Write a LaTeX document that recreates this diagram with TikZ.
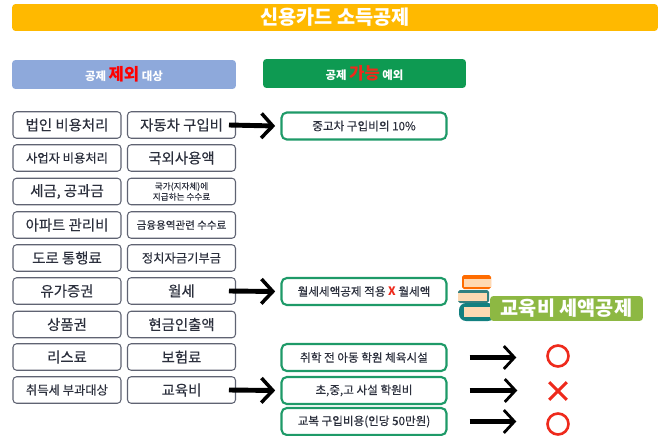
\documentclass[tikz,border=0pt]{standalone}
\usepackage{fontspec}
\setmainfont{Noto Sans CJK KR}[UprightFeatures={FakeBold=0.25}]
\usetikzlibrary{arrows.meta}
\definecolor{barorange}{HTML}{FFB900}
\definecolor{headblue}{HTML}{8EA9DB}
\definecolor{headgreen}{HTML}{0E9A52}
\definecolor{boxgray}{HTML}{5F6372}
\definecolor{boxgreen}{HTML}{1E9A68}
\definecolor{bannergreen}{HTML}{8DB843}
\definecolor{textdark}{HTML}{2B2F3C}
\definecolor{markred}{HTML}{EE2A1C}
\newcommand{\fs}[1]{\fontsize{#1}{#1}\selectfont}
\tikzset{
  itembox/.style={draw=boxgray, line width=0.6pt, rounded corners=2pt, fill=white, text=textdark,
    minimum width=2.16cm, minimum height=0.53cm, inner sep=0pt, align=center, font=\fs{8.2}},
  smallitem/.style={itembox, font=\fs{7}},
  okbox/.style={draw=boxgreen, line width=1.2pt, rounded corners=3pt, fill=white, text=textdark,
    minimum width=3.3cm, minimum height=0.54cm, inner sep=0pt, font=\fs{6.6}},
  headbox/.style={rounded corners=2pt, minimum height=0.58cm, inner sep=0pt, text=white, font=\bfseries\fs{6.5}},
  bigarrow/.style={line width=2.8pt, -{Straight Barb[length=6.5pt,width=14pt,line width=2pt]}},
  sidearrow/.style={line width=2.3pt, -{Straight Barb[length=6pt,width=13pt,line width=1.6pt]}},
  circlemark/.style={circle, draw=markred, line width=1.5pt, minimum size=0.42cm, inner sep=0pt},
}
\begin{document}
\begin{tikzpicture}[x=0.02cm, y=-0.02cm]
\useasboundingbox (0,0) rectangle (660,436);

% title and headers
\node[rounded corners=2pt, fill=barorange, minimum width=12.92cm, minimum height=0.54cm, inner sep=0pt, text=white, font=\bfseries\fs{11.2}] (title) at (335,17.5) {신용카드 소득공제};
\node[headbox, fill=headblue, minimum width=4.48cm] (except) at (124,74.5) {공제 \textcolor{red}{\fs{9.5}제외} 대상};
\node[headbox, fill=headgreen, minimum width=4.06cm] (allowed) at (364.5,73.5) {공제 \textcolor{markred}{\fs{9.5}가능} 예외};

% left column
\node[itembox] (corp) at (67,125) {법인 비용처리};
\node[smallitem] (biz) at (67,158) {사업자 비용처리};
\node[itembox] (tax) at (67,191.5) {세금, 공과금};
\node[itembox] (apt) at (67,225) {아파트 관리비};
\node[itembox] (toll) at (67,258) {도로 통행료};
\node[itembox] (stock) at (67,291) {유가증권};
\node[itembox] (gift) at (67,324.5) {상품권};
\node[itembox] (lease) at (67,357) {리스료};
\node[smallitem] (acq) at (67,390) {취득세 부과대상};

% right column
\node[itembox] (car) at (181.5,125) {자동차 구입비};
\node[itembox] (abroad) at (181.5,158) {국외사용액};
\node[itembox, font=\fs{4.9}] (gov) at (181.5,191.5) {국가(지자체)에\\지급하는 수수료};
\node[itembox, font=\fs{6}] (fin) at (181.5,225) {금융용역관련 수수료};
\node[smallitem] (donate) at (181.5,258) {정치자금기부금};
\node[itembox] (rent) at (181.5,291) {월세};
\node[itembox] (cash) at (181.5,324.5) {현금인출액};
\node[itembox] (insur) at (181.5,357) {보험료};
\node[itembox] (edu) at (181.5,390) {교육비};

% green boxes
\node[okbox] (used) at (364,126) {중고차 구입비의 10\%};
\node[okbox] (credit) at (364,291.5) {월세세액공제 적용 \textcolor{markred}{\textbf{X}} 월세액};
\node[okbox] (pre) at (364,357.5) {취학 전 아동 학원 체육시설};
\node[okbox] (school) at (364,390.5) {초,중,고 사설 학원비};
\node[okbox] (uniform) at (364,421.5) {교복 구입비용(인당 50만원)};

% books
\fill[rounded corners=1pt, fill=orange!85!red] (462,275) rectangle (491,289);
\fill[fill=orange!30] (464,279) rectangle (491,287);
\fill[rounded corners=1pt, fill=teal!60!gray] (458,290) rectangle (489,303);
\fill[fill=orange!30] (458,293) rectangle (487,301);
\fill[rounded corners=4pt, fill=teal!85!gray] (459,303) rectangle (495,321);
\fill[fill=orange!30] (464,307) rectangle (495,317);
\node[rounded corners=2pt, fill=bannergreen, minimum width=3.06cm, minimum height=0.5cm, inner sep=0pt, text=white, font=\bfseries\fs{11.2}] (banner) at (566.5,308.5) {교육비 세액공제};

% marks
\node[circlemark] (m1) at (558,356) {};
\node[inner sep=0pt, minimum size=0.42cm] (m2) at (558,391) {};
\draw[markred, line width=1.7pt] (m2.north west) ++(2,2) -- ([shift={(-2,-2)}]m2.south east);
\draw[markred, line width=1.7pt] (m2.north east) ++(-2,2) -- ([shift={(2,-2)}]m2.south west);
\node[circlemark] (m3) at (558,424) {};

% arrows
\draw[bigarrow] ([xshift=-4pt]car.east) -- ([xshift=-3pt]used.west);
\draw[bigarrow] ([xshift=-4pt]rent.east) -- ([xshift=-3pt]credit.west);
\draw[bigarrow] ([xshift=-4pt]edu.east) -- ([xshift=-3pt]school.west);
\draw[sidearrow] ([xshift=12.5pt]pre.east) -- ([xshift=-17pt]m1.west |- pre.east);
\draw[sidearrow] ([xshift=12.5pt]school.east) -- ([xshift=-17pt]m2.west |- school.east);
\draw[sidearrow] ([xshift=12.5pt]uniform.east) -- ([xshift=-17pt]m3.west |- uniform.east);
\end{tikzpicture}
\end{document}
